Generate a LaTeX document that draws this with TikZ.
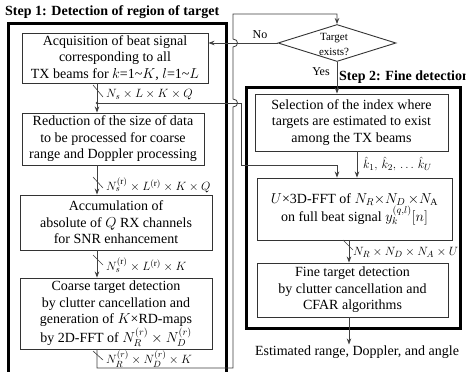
\documentclass[tikz,border=0pt]{standalone}
\usepackage{fontspec}
\setmainfont{Liberation Serif}[BoldFont={Liberation Serif Bold},ItalicFont={Liberation Serif Italic}]
\usetikzlibrary{shapes.geometric,arrows.meta,calc}
\begin{document}
\begin{tikzpicture}[x=1pt,y=-1pt,
  box/.style={draw=black!80, line width=0.9pt, align=center, inner sep=0pt, font=\fontsize{14}{16.5}\selectfont},
  frame/.style={draw=black, line width=3pt},
  conn/.style={draw=black!75, line width=0.8pt},
  arr/.style={conn, -{Stealth[length=6pt,width=4.5pt]}},
  lab/.style={font=\fontsize{13}{16}\selectfont, inner sep=0pt, anchor=west},
  ttl/.style={font=\fontsize{14}{16}\selectfont\bfseries, inner sep=0pt, anchor=west},
  small/.style={font=\fontsize{12}{14}\selectfont, inner sep=0pt},
  tick/.style={draw=black!75, line width=0.6pt}
]
\useasboundingbox (0,0) rectangle (466,372);
\clip (0,0) rectangle (466,372);
\fill[white] (0,0) rectangle (466,372);

% frames
\draw[frame] (8,23) rectangle (226,400);
\draw[frame] (246,87) rectangle (460,328);

% titles
\node[ttl] (t1) at (5,12) {Step 1: Detection of region of target};
\node[ttl] (t2) at (339,77) {Step 2: Fine detection};

% step 1 boxes
\node[box, minimum width=186pt, minimum height=50pt] (b1) at (115,58)
  {Acquisition of beat signal\\corresponding to all\\TX beams for $k$=1\textasciitilde$K$, $l$=1\textasciitilde$L$};
\node[box, minimum width=182pt, minimum height=52pt] (b2) at (113,139)
  {Reduction of the size of data\\to be processed for coarse\\range and Doppler processing};
\node[box, minimum width=192pt, minimum height=55pt] (b3) at (116,222.5)
  {Accumulation of\\absolute of $Q$ RX channels\\for SNR enhancement};
\node[box, minimum width=192pt, minimum height=71pt] (b4) at (116,313.5)
  {Coarse target detection\\by clutter cancellation and\\generation of $K$×RD-maps\\by 2D-FFT of $N_R^{(r)}\times N_D^{(r)}$};

% decision
\node[diamond, draw=black!80, line width=0.9pt, minimum width=118pt, minimum height=37pt, inner sep=0pt] (dec) at (337,43) {};
\node[font=\fontsize{11}{15}\selectfont, align=center, inner sep=0pt] (dect) at (334,44) {Target\\exists?};
\node[small] (no) at (260,35) {No};
\node[small] (yes) at (321,72) {Yes};

% step 2 boxes
\node[box, minimum width=193pt, minimum height=57pt] (sel) at (351.5,122.5)
  {Selection of the index where\\targets are estimated to exist\\among the TX beams};
\node[box, minimum width=195pt, minimum height=62pt] (fft) at (354.5,209)
  {$U$×3D-FFT of $N_R{\times}N_D\,{\times}N_{\mathrm{A}}$\\on full beat signal $y_k^{(q,l)}[n]$};
\node[box, minimum width=191pt, minimum height=54pt] (fine) at (352.5,290)
  {Fine target detection\\by clutter cancellation and\\CFAR algorithms};
\node[font=\fontsize{14}{16}\selectfont, inner sep=1pt] (out) at (357,352) {Estimated range, Doppler, and angle};

% arrow labels
\node[lab] (l1) at (106,95) {$N_s\times L\times K\times Q$};
\node[lab] (l2) at (106,185) {$N_s^{(\mathrm{r})}\times L^{(\mathrm{r})}\times K\times Q$};
\node[lab] (l3) at (106,265) {$N_s^{(\mathrm{r})}\times L^{(\mathrm{r})}\times K$};
\node[lab] (l4) at (106,359) {$N_R^{(r)}\times N_D^{(r)}\times K$};
\node[lab, font=\fontsize{12.5}{15}\selectfont] (lk) at (363,164) {$\hat{k}_1,\, \hat{k}_2,\, \dots\,\hat{k}_U$};
\node[lab, font=\fontsize{12.5}{15}\selectfont] (l6) at (353,252) {$N_R\times N_D\times N_A\times U$};

% coordinates
\coordinate (ax) at (97,0);
\coordinate (dx) at (337,0);
\coordinate (kx) at (357,0);
\coordinate (ox) at (349,0);
\coordinate (fs) at (97,103);
\coordinate (fc) at (241,165);
\coordinate (lc) at (233,368);
\coordinate (lt) at (233,14);

% ticks
\draw[tick] (93,85) -- (103,97);
\draw[tick] (93,177) -- (103,188);
\draw[tick] (93,255) -- (103,265);
\draw[tick] (93,351) -- (103,360);
\draw[tick] (343,240) -- (353,250);

% connectors
\draw[arr] (b1.south -| ax) -- (b2.north -| ax);
\draw[arr] (b2.south -| ax) -- (b3.north -| ax);
\draw[arr] (b3.south -| ax) -- (b4.north -| ax);
\draw[arr] (b4.south -| ax) |- (lc) -- (233,107) .. controls (239,107) and (239,99) .. (233,99)
  -- (233,47) .. controls (239,47) and (239,39) .. (233,39) -- (lt) -| (dec.north);
\draw[arr] (dec.west) -- (dec.west -| b1.east);
\fill[black!75] (fs) circle (1.4);
\draw[arr] (fs) -| (fc) -| (fft.north -| dx);
\draw[arr] (dec.south) -- (sel.north -| dec.south);
\draw[arr] (sel.south -| kx) -- (fft.north -| kx);
\draw[arr] (fft.south -| ox) -- (fine.north -| ox);
\draw[arr] (fine.south -| ox) -- (out.north -| ox);
\end{tikzpicture}
\end{document}
